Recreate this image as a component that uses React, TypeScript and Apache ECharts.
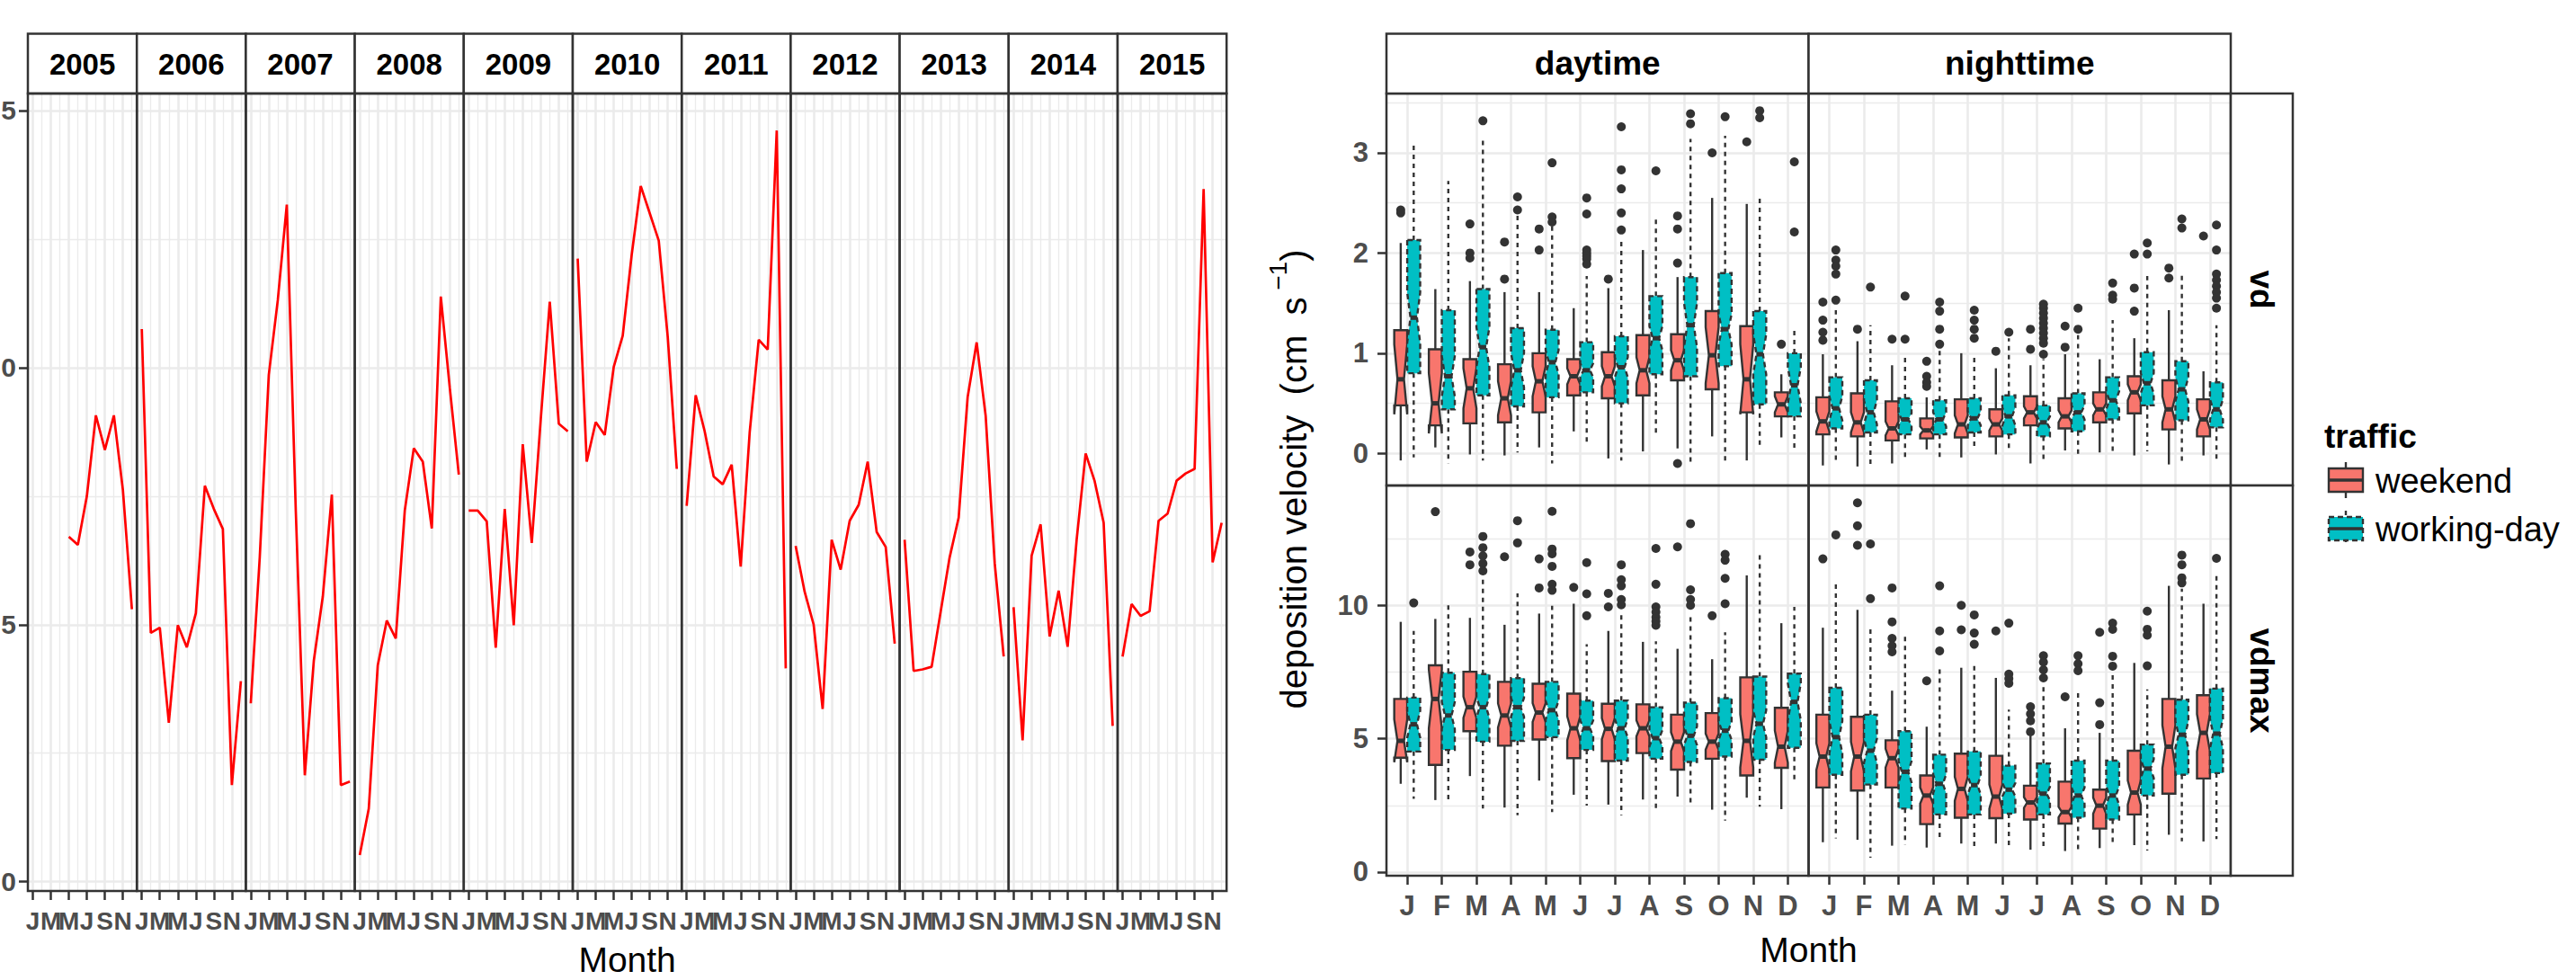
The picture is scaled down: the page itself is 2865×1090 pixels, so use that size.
import React, { useEffect, useRef } from 'react';
import * as echarts from 'echarts';

// ---------------- DATA ----------------
const years = ['2005', '2006', '2007', '2008', '2009', '2010', '2011', '2012', '2013', '2014', '2015'];
const monthLetters = ['J', 'F', 'M', 'A', 'M', 'J', 'J', 'A', 'S', 'O', 'N', 'D'];

// monthly values Jan..Dec (null = no value)
const y2005 = [null, null, null, null, 0.671, 0.655, 0.75, 0.907, 0.84, 0.907, 0.762, 0.53];
const y2006 = [1.075, 0.484, 0.494, 0.309, 0.499, 0.456, 0.522, 0.77, 0.725, 0.686, 0.188, 0.39];
const y2007 = [0.347, 0.632, 0.986, 1.131, 1.317, 0.72, 0.207, 0.43, 0.555, 0.753, 0.188, 0.195];
const y2008 = [0.052, 0.142, 0.421, 0.508, 0.473, 0.722, 0.843, 0.817, 0.687, 1.138, 0.96, 0.792];
const y2009 = [0.722, 0.722, 0.701, 0.455, 0.725, 0.499, 0.851, 0.659, 0.9, 1.128, 0.891, 0.876];
const y2010 = [1.212, 0.817, 0.894, 0.869, 1.001, 1.062, 1.22, 1.353, 1.3, 1.247, 1.059, 0.803];
const y2011 = [0.731, 0.946, 0.876, 0.788, 0.773, 0.811, 0.613, 0.875, 1.054, 1.035, 1.461, 0.415];
const y2012 = [0.653, 0.564, 0.5, 0.336, 0.665, 0.607, 0.702, 0.733, 0.817, 0.68, 0.651, 0.463];
const y2013 = [0.665, 0.41, 0.413, 0.418, 0.525, 0.631, 0.708, 0.943, 1.049, 0.906, 0.62, 0.438];
const y2014 = [0.534, 0.275, 0.634, 0.695, 0.477, 0.566, 0.457, 0.665, 0.833, 0.779, 0.698, 0.303];
const y2015 = [0.438, 0.54, 0.517, 0.526, 0.702, 0.716, 0.78, 0.794, 0.803, 1.347, 0.621, 0.698];
const yearValues = [y2005, y2006, y2007, y2008, y2009, y2010, y2011, y2012, y2013, y2014, y2015];

const leftXTicks = [1, 3, 5, 7, 9, 11];
const leftXMinor = [2, 4, 6, 8, 10, 12];
const leftYTicks = [0, 0.5, 1, 1.5];
const leftYMinor = [0.25, 0.75, 1.25];

const facetCols = ['daytime', 'nighttime'];
const facetRows = ['vd', 'vdmax'];
const trafficLevels = ['weekend', 'working-day'];
const monthIdx = [0, 1, 2, 3, 4, 5, 6, 7, 8, 9, 10, 11];
const vdTicks = [0, 1, 2, 3];
const vdMinor = [0.5, 1.5, 2.5, 3.5];
const vdmaxTicks = [0, 5, 10];
const vdmaxMinor = [2.5, 7.5, 12.5];

// box stats per month: [lower whisker, Q1, median, Q3, upper whisker]
const vdDayWeekend = [
  [-0.07, 0.48, 0.74, 1.23, 2.1], [0.06, 0.28, 0.5, 1.04, 1.64], [-0.01, 0.3, 0.65, 0.94, 1.72],
  [-0.02, 0.31, 0.55, 0.89, 1.61], [0.06, 0.41, 0.72, 1.0, 1.61], [0.22, 0.58, 0.77, 0.94, 1.45],
  [-0.05, 0.55, 0.77, 1.01, 1.65], [0.02, 0.58, 0.83, 1.18, 2.03], [0.05, 0.73, 0.93, 1.19, 1.76],
  [0.17, 0.64, 0.98, 1.42, 2.55], [-0.07, 0.41, 0.74, 1.27, 2.49], [0.16, 0.37, 0.49, 0.61, 0.79],
];
const vdDayWeekendNotch = [0.35, 0.3, 0.2, 0.17, 0.15, 0.08, 0.1, 0.13, 0.1, 0.28, 0.35, 0.08];
const vdDayWeekendOut = [[2.43, 2.4], [], [2.29, 2.0, 1.95], [2.11, 1.74], [2.24, 2.03], [], [1.74], [], [2.37, 2.24, 1.9, -0.1], [3.0], [3.11], [1.09]];

const vdDayWork = [
  [-0.04, 0.8, 1.355, 2.13, 3.11], [-0.1, 0.44, 0.77, 1.43, 2.72], [-0.07, 0.58, 1.06, 1.64, 3.12],
  [0.01, 0.47, 0.83, 1.25, 2.4], [-0.1, 0.56, 0.91, 1.235, 2.28], [0.08, 0.61, 0.83, 1.11, 1.77],
  [-0.07, 0.5, 0.86, 1.17, 2.15], [0.17, 0.79, 1.15, 1.57, 2.34], [-0.09, 0.77, 1.28, 1.76, 3.14],
  [-0.09, 0.87, 1.24, 1.8, 3.17], [0.06, 0.49, 0.99, 1.42, 2.58], [0.02, 0.37, 0.68, 1.0, 1.23],
];
const vdDayWorkNotch = [0.25, 0.2, 0.2, 0.17, 0.12, 0.07, 0.1, 0.12, 0.22, 0.15, 0.2, 0.18];
const vdDayWorkOut = [[], [], [3.32], [2.56, 2.43], [2.9, 2.36, 2.31], [2.55, 2.39, 2.03, 2.0, 1.97, 1.94, 1.89], [3.26, 2.83, 2.64, 2.4, 2.23], [2.82], [3.39, 3.29], [3.36], [3.42, 3.35], [2.91, 2.21]];

const vdNightWeekend = [
  [-0.12, 0.19, 0.32, 0.56, 0.99], [-0.13, 0.17, 0.31, 0.6, 1.12], [-0.1, 0.13, 0.25, 0.52, 0.88],
  [0.04, 0.15, 0.23, 0.35, 0.56], [-0.04, 0.16, 0.29, 0.54, 1.0], [-0.01, 0.17, 0.29, 0.44, 0.85],
  [-0.1, 0.28, 0.41, 0.57, 0.88], [0.03, 0.25, 0.37, 0.55, 0.99], [0.01, 0.31, 0.44, 0.61, 0.94],
  [-0.02, 0.4, 0.61, 0.77, 1.15], [-0.11, 0.24, 0.44, 0.73, 1.43], [-0.02, 0.17, 0.34, 0.54, 0.82],
];
const vdNightWeekendNotch = [0.1, 0.1, 0.07, 0.04, 0.09, 0.06, 0.06, 0.06, 0.06, 0.08, 0.13, 0.1];
const vdNightWeekendOut = [[1.51, 1.33, 1.21, 1.13], [1.24], [1.14], [0.92, 0.77, 0.71, 0.67], [], [1.02], [1.24, 1.04], [1.27, 1.06], [], [1.99, 1.65, 1.42], [1.85, 1.75], [2.17]];

const vdNightWork = [
  [-0.08, 0.25, 0.45, 0.76, 1.43], [-0.11, 0.21, 0.41, 0.73, 1.28], [-0.06, 0.19, 0.34, 0.55, 0.97],
  [-0.06, 0.19, 0.34, 0.53, 1.04], [0.05, 0.21, 0.35, 0.55, 0.97], [0.03, 0.19, 0.37, 0.58, 1.15],
  [-0.08, 0.17, 0.31, 0.48, 0.94], [-0.01, 0.22, 0.41, 0.6, 1.18], [-0.02, 0.34, 0.53, 0.76, 1.33],
  [0.02, 0.48, 0.7, 1.01, 1.77], [-0.09, 0.33, 0.64, 0.92, 1.79], [-0.09, 0.26, 0.44, 0.71, 1.28],
];
const vdNightWorkNotch = [0.12, 0.12, 0.06, 0.07, 0.07, 0.09, 0.06, 0.07, 0.09, 0.1, 0.12, 0.1];
const vdNightWorkOut = [[2.03, 1.93, 1.87, 1.79, 1.53], [1.66], [1.57, 1.14], [1.51, 1.42, 1.24, 1.09], [1.43, 1.33, 1.24, 1.15], [1.21], [1.49, 1.45, 1.4, 1.35, 1.3, 1.25, 1.2, 1.15, 1.1, 0.99], [1.45, 1.24], [1.7, 1.58, 1.54], [2.1, 1.99], [2.34, 2.25], [2.28, 2.03, 1.79, 1.73, 1.67, 1.61, 1.55, 1.45]];

const vdmaxDayWeekend = [
  [3.31, 4.29, 4.92, 6.49, 9.38], [2.7, 4.02, 6.49, 7.75, 9.49], [3.6, 5.28, 6.18, 7.51, 9.53],
  [2.42, 4.74, 5.87, 7.13, 9.27], [3.43, 4.97, 5.98, 7.06, 9.69], [2.9, 4.27, 5.39, 6.69, 10.06],
  [2.53, 4.16, 5.37, 6.31, 9.04], [2.72, 4.46, 5.39, 6.29, 8.63], [2.83, 3.84, 4.89, 5.9, 8.37],
  [2.34, 4.25, 4.89, 5.96, 7.98], [2.79, 3.62, 4.92, 7.3, 11.12], [2.36, 3.91, 4.7, 6.16, 9.33],
];
const vdmaxDayWeekendNotch = [0.8, 1.1, 0.4, 0.45, 0.35, 0.45, 0.4, 0.3, 0.35, 0.3, 1.0, 0.6];
const vdmaxDayWeekendOut = [[], [13.51], [12.0, 11.52], [11.82], [11.74, 10.65], [10.67], [10.45, 9.94], [], [12.19], [9.61], [], []];

const vdmaxDayWork = [
  [2.75, 4.52, 5.54, 6.54, 9.04], [2.56, 4.58, 5.87, 7.47, 10.0], [2.38, 4.89, 6.18, 7.42, 11.01],
  [2.13, 4.92, 6.18, 7.27, 10.45], [2.25, 5.06, 6.07, 7.13, 9.98], [2.49, 4.58, 5.39, 6.43, 8.54],
  [2.13, 4.18, 5.39, 6.43, 9.8], [2.27, 4.25, 5.02, 6.18, 8.65], [2.45, 4.13, 5.11, 6.35, 9.66],
  [1.93, 4.33, 5.3, 6.52, 8.99], [2.45, 4.21, 5.56, 7.33, 12.02], [3.39, 4.66, 6.38, 7.44, 9.94],
];
const vdmaxDayWorkNotch = [0.5, 0.5, 0.4, 0.35, 0.35, 0.3, 0.35, 0.3, 0.35, 0.35, 0.5, 0.7];
const vdmaxDayWorkOut = [[10.09], [], [12.58, 12.16, 11.85, 11.57, 11.29], [13.17, 12.34], [13.52, 12.11, 11.93, 11.46, 10.79, 10.56], [11.6, 10.43, 9.61], [11.52, 10.96, 10.73, 10.22, 10.02], [12.13, 10.79, 9.94, 9.75, 9.55, 9.4, 9.25], [13.06, 10.58, 10.22, 10.0], [11.91, 11.69, 11.01, 10.06], [], []];

const vdmaxNightWeekend = [
  [1.12, 3.17, 4.33, 5.9, 9.16], [1.21, 3.06, 4.33, 5.82, 9.83], [0.99, 3.17, 4.27, 4.94, 6.8],
  [0.92, 1.8, 2.87, 3.62, 5.45], [1.07, 2.04, 3.12, 4.44, 7.66], [1.07, 2.02, 2.83, 4.36, 7.28],
  [0.84, 1.97, 2.61, 3.24, 5.11], [0.79, 1.82, 2.25, 3.39, 5.39], [0.9, 1.63, 2.49, 3.09, 5.22],
  [1.01, 2.16, 2.98, 4.55, 7.84], [1.4, 2.94, 4.7, 6.49, 10.73], [1.15, 3.51, 5.22, 6.63, 10.06],
];
const vdmaxNightWeekendNotch = [0.5, 0.55, 0.35, 0.3, 0.45, 0.45, 0.2, 0.2, 0.3, 0.45, 0.8, 0.7];
const vdmaxNightWeekendOut = [[11.74], [13.84, 12.98, 12.25], [10.65, 9.38, 8.76, 8.48, 8.26], [7.17], [10.0, 9.08], [9.04], [6.2, 5.93, 5.67, 5.26], [6.57], [8.99, 6.35, 5.53], [], [], []];

const vdmaxNightWork = [
  [1.26, 3.65, 5.06, 6.91, 10.92], [0.54, 3.28, 4.55, 5.9, 9.16], [1.03, 2.38, 3.76, 5.28, 8.88],
  [1.21, 2.16, 3.31, 4.4, 7.7], [0.84, 2.16, 3.26, 4.52, 7.78], [0.84, 2.19, 3.09, 3.99, 6.09],
  [0.88, 2.16, 2.94, 4.07, 6.97], [0.7, 2.04, 2.87, 4.18, 6.72], [0.99, 1.97, 2.87, 4.18, 7.47],
  [0.81, 2.87, 3.88, 4.78, 6.85], [1.15, 3.65, 5.15, 6.46, 10.62], [1.24, 3.71, 5.19, 6.88, 11.18],
];
const vdmaxNightWorkNotch = [0.6, 0.45, 0.4, 0.35, 0.35, 0.25, 0.25, 0.3, 0.35, 0.35, 0.5, 0.55];
const vdmaxNightWorkOut = [[12.64], [12.3, 10.25], [], [10.73, 9.04, 8.29], [9.64, 8.96, 8.54], [9.33, 7.42, 7.25, 7.08], [8.11, 7.87, 7.58, 7.28], [8.11, 7.81, 7.55], [9.33, 9.1, 8.09, 7.72], [9.78, 9.1, 8.88, 7.73], [11.88, 11.52, 11.03, 10.84], [11.76]];

// ---------------- STYLE / LAYOUT ----------------
const FONT = '"Liberation Sans", Arial, Helvetica, sans-serif';
const DARK = '#333333';
const GRID_C = '#EBEBEB';
const TICK_TXT = '#4D4D4D';
const LINE_C = '#FF0000';
const FILLS = ['#F8766D', '#00BFC4'];

const STRIP_TOP = 37.5;
const PANEL_TOP = 104;
const L_X0 = 31;
const L_PW = 121.2;
const L_BOT = 991;
const L_XRANGE = [0.45, 12.55];
const L_YRANGE = [-0.018, 1.533];

const R_X0 = 1542;
const R_PW = 469.5;
const R_ROWS = [[104, 540], [540, 974]];
const R_XRANGE = [-0.6, 11.6];
const R_YRANGES = [[-0.32, 3.592], [-0.135, 14.49]];
const R_STRIP_W = 69;
const DODGE = 0.1875;

function valueAxis(gridIndex: number, position: string, range: number[], ticks: number[], o: any) {
  return {
    type: 'value', gridIndex, position, min: range[0], max: range[1],
    axisLine: { show: false, onZero: false },
    axisTick: { show: !!o.ticks, customValues: ticks, length: 10, lineStyle: { color: DARK, width: 2.5 } },
    axisLabel: {
      show: !!o.labels, customValues: ticks, formatter: o.fmt, color: TICK_TXT, fontWeight: 'bold',
      fontSize: o.fontSize || 30, fontFamily: FONT, margin: o.margin || 18,
      showMinLabel: true, showMaxLabel: true, hideOverlap: false,
    },
    splitLine: { show: true, lineStyle: { color: GRID_C, width: o.gw } },
    minorTick: { show: false }, minorSplitLine: { show: false },
  };
}

function buildOption() {
  const grid: any[] = [];
  const xAxis: any[] = [];
  const yAxis: any[] = [];
  const series: any[] = [];
  const graphic: any[] = [];

  const addPanel = (x: number, y: number, w: number, h: number, xr: number[], yr: number[],
    xMajor: number[], xMinor: number[] | null, yMajor: number[], yMinor: number[] | null,
    xo: any, yo: any) => {
    const gi = grid.length;
    grid.push({ left: x, top: y, width: w, height: h, containLabel: false, outerBoundsMode: 'none', show: false });
    const xi = xAxis.length;
    xAxis.push(valueAxis(gi, 'bottom', xr, xMajor, { ...xo, gw: 2.6 }));
    if (xMinor) xAxis.push(valueAxis(gi, 'bottom', xr, xMinor, { gw: 1.3 }));
    const yi = yAxis.length;
    yAxis.push(valueAxis(gi, 'left', yr, yMajor, { ...yo, gw: 2.6 }));
    if (yMinor) yAxis.push(valueAxis(gi, 'left', yr, yMinor, { gw: 1.3 }));
    return { xi, yi };
  };

  // ---------- left: yearly facets ----------
  years.forEach((yr, i) => {
    const x = L_X0 + i * L_PW;
    const { xi, yi } = addPanel(x, PANEL_TOP, L_PW, L_BOT - PANEL_TOP, L_XRANGE, L_YRANGE,
      leftXTicks, leftXMinor, leftYTicks, leftYMinor,
      { ticks: true, labels: true, fmt: (v: number) => monthLetters[Math.round(v) - 1], fontSize: 28, margin: 19 },
      // only the last character of each label is visible at the picture's left edge
      { ticks: i === 0, labels: i === 0, fmt: (v: number) => v.toFixed(1).slice(-1), fontSize: 30, margin: 13 });
    const pts: number[][] = [];
    yearValues[i].forEach((v, m) => { if (v !== null) pts.push([m + 1, v as number]); });
    series.push({
      type: 'line', xAxisIndex: xi, yAxisIndex: yi, data: pts, symbol: 'none', silent: true, z: 3,
      lineStyle: { color: LINE_C, width: 2.7 },
    });
    graphic.push({ type: 'rect', z: 20, shape: { x, y: STRIP_TOP, width: L_PW, height: PANEL_TOP - STRIP_TOP }, style: { fill: '#FFFFFF', stroke: DARK, lineWidth: 2.5 } });
    graphic.push({ type: 'text', z: 21, x: x + L_PW / 2, y: (STRIP_TOP + PANEL_TOP) / 2 + 1, style: { text: yr, fontSize: 33, fontWeight: 'bold', fontFamily: FONT, fill: '#000000', align: 'center', verticalAlign: 'middle' } });
    graphic.push({ type: 'rect', z: 20, shape: { x, y: PANEL_TOP, width: L_PW, height: L_BOT - PANEL_TOP }, style: { fill: 'none', stroke: DARK, lineWidth: 2.5 } });
  });
  graphic.push({ type: 'text', z: 21, x: L_X0 + (L_PW * 11) / 2, y: 1067, style: { text: 'Month', fontSize: 39, fontFamily: FONT, fill: '#000000', align: 'center', verticalAlign: 'middle' } });

  // ---------- right: boxplot facets ----------
  const boxes = [
    [[vdDayWeekend, vdDayWeekendNotch, vdDayWeekendOut], [vdDayWork, vdDayWorkNotch, vdDayWorkOut]],
    [[vdNightWeekend, vdNightWeekendNotch, vdNightWeekendOut], [vdNightWork, vdNightWorkNotch, vdNightWorkOut]],
    [[vdmaxDayWeekend, vdmaxDayWeekendNotch, vdmaxDayWeekendOut], [vdmaxDayWork, vdmaxDayWorkNotch, vdmaxDayWorkOut]],
    [[vdmaxNightWeekend, vdmaxNightWeekendNotch, vdmaxNightWeekendOut], [vdmaxNightWork, vdmaxNightWorkNotch, vdmaxNightWorkOut]],
  ];

  facetRows.forEach((rowName, r) => {
    facetCols.forEach((colName, c) => {
      const x = R_X0 + c * R_PW;
      const [top, bot] = R_ROWS[r];
      const { xi, yi } = addPanel(x, top, R_PW, bot - top, R_XRANGE, R_YRANGES[r],
        monthIdx, null, r === 0 ? vdTicks : vdmaxTicks, r === 0 ? vdMinor : vdmaxMinor,
        { ticks: r === 1, labels: r === 1, fmt: (v: number) => monthLetters[Math.round(v)], fontSize: 31, margin: 18 },
        { ticks: c === 0, labels: c === 0, fmt: (v: number) => String(v), fontSize: 31, margin: 20 });
      const set = boxes[r * 2 + c];
      set.forEach(([stats, notch, outs]: any, t: number) => {
        const side = t === 0 ? -1 : 1;
        const dashed = t === 1;
        series.push({
          type: 'custom', xAxisIndex: xi, yAxisIndex: yi, silent: true, z: 2, clip: false,
          data: (stats as number[][]).map((s, m) => [m, s[0], s[1], s[2], s[3], s[4], (notch as number[])[m]]),
          encode: { x: 0, y: [1, 2, 3, 4, 5] },
          renderItem: (params: any, api: any) => {
            const m = api.value(0);
            const xc = m + side * DODGE;
            const lo = api.value(1), q1 = api.value(2), med = api.value(3), q3 = api.value(4), hi = api.value(5), nh = api.value(6);
            const xL = api.coord([xc - DODGE, med])[0];
            const xR = api.coord([xc + DODGE, med])[0];
            const yv = (v: number) => api.coord([xc, v])[1];
            const xm = (xL + xR) / 2;
            const ins = (xR - xL) * 0.25;
            const ylo = yv(lo), yq1 = yv(q1), ymed = yv(med), yq3 = yv(q3), yhi = yv(hi);
            const ynl = yv(med - nh), ynu = yv(med + nh);
            const wStyle: any = { stroke: DARK, lineWidth: 2.4 };
            const bStyle: any = { fill: FILLS[t], stroke: DARK, lineWidth: 2.4 };
            if (dashed) { wStyle.lineDash = [5, 5]; bStyle.lineDash = [6, 4]; }
            return {
              type: 'group',
              children: [
                { type: 'line', shape: { x1: xm, y1: yq3, x2: xm, y2: yhi }, style: wStyle },
                { type: 'line', shape: { x1: xm, y1: yq1, x2: xm, y2: ylo }, style: wStyle },
                {
                  type: 'polygon',
                  shape: { points: [[xL, yq3], [xL, ynu], [xL + ins, ymed], [xL, ynl], [xL, yq1], [xR, yq1], [xR, ynl], [xR - ins, ymed], [xR, ynu], [xR, yq3]] },
                  style: bStyle,
                },
                { type: 'line', shape: { x1: xL + ins, y1: ymed, x2: xR - ins, y2: ymed }, style: { stroke: DARK, lineWidth: 5 } },
              ],
            };
          },
        });
        const outPts: number[][] = [];
        (outs as number[][]).forEach((arr, m) => arr.forEach((v) => outPts.push([m + side * DODGE, v])));
        series.push({
          type: 'scatter', xAxisIndex: xi, yAxisIndex: yi, silent: true, z: 3,
          data: outPts, symbol: 'circle', symbolSize: 10, itemStyle: { color: DARK, opacity: 1 },
        });
      });
      graphic.push({ type: 'rect', z: 20, shape: { x, y: top, width: R_PW, height: bot - top }, style: { fill: 'none', stroke: DARK, lineWidth: 2.5 } });
      if (r === 0) {
        graphic.push({ type: 'rect', z: 20, shape: { x, y: STRIP_TOP, width: R_PW, height: PANEL_TOP - STRIP_TOP }, style: { fill: '#FFFFFF', stroke: DARK, lineWidth: 2.5 } });
        graphic.push({ type: 'text', z: 21, x: x + R_PW / 2, y: (STRIP_TOP + PANEL_TOP) / 2, style: { text: colName, fontSize: 37, fontWeight: 'bold', fontFamily: FONT, fill: '#000000', align: 'center', verticalAlign: 'middle' } });
      }
      if (c === 1) {
        const sx = x + R_PW;
        graphic.push({ type: 'rect', z: 20, shape: { x: sx, y: top, width: R_STRIP_W, height: bot - top }, style: { fill: '#FFFFFF', stroke: DARK, lineWidth: 2.5 } });
        graphic.push({ type: 'text', z: 21, x: sx + R_STRIP_W / 2, y: (top + bot) / 2, rotation: -Math.PI / 2, style: { text: rowName, fontSize: 37, fontWeight: 'bold', fontFamily: FONT, fill: '#000000', align: 'center', verticalAlign: 'middle' } });
      }
    });
  });

  // axis titles
  graphic.push({ type: 'text', z: 21, x: R_X0 + R_PW, y: 1056, style: { text: 'Month', fontSize: 39, fontFamily: FONT, fill: '#000000', align: 'center', verticalAlign: 'middle' } });
  graphic.push({
    type: 'text', z: 21, x: 1433, y: 533, rotation: Math.PI / 2,
    style: {
      text: '{a|deposition velocity  (cm  s}{b| −1}{a|)}',
      align: 'center', verticalAlign: 'middle',
      rich: {
        a: { fontSize: 40, fontFamily: FONT, fill: '#000000', lineHeight: 52, verticalAlign: 'bottom' },
        b: { fontSize: 28, fontFamily: FONT, fill: '#000000', lineHeight: 29, verticalAlign: 'top' },
      },
    },
  });

  // legend
  const LX = 2590, KW = 38;
  graphic.push({ type: 'text', z: 21, x: 2585, y: 485, style: { text: 'traffic', fontSize: 37, fontWeight: 'bold', fontFamily: FONT, fill: '#000000', align: 'left', verticalAlign: 'middle' } });
  trafficLevels.forEach((name, t) => {
    const cy = 534 + t * 54;
    const dash = t === 1 ? [5, 5] : null;
    const bdash = t === 1 ? [6, 4] : null;
    graphic.push({ type: 'line', z: 21, shape: { x1: LX + KW / 2, y1: cy - 20, x2: LX + KW / 2, y2: cy + 20 }, style: { stroke: DARK, lineWidth: 2.4, lineDash: dash } });
    graphic.push({ type: 'rect', z: 22, shape: { x: LX, y: cy - 13, width: KW, height: 26 }, style: { fill: FILLS[t], stroke: DARK, lineWidth: 2.4, lineDash: bdash } });
    graphic.push({ type: 'line', z: 23, shape: { x1: LX, y1: cy, x2: LX + KW, y2: cy }, style: { stroke: DARK, lineWidth: 3.5 } });
    graphic.push({ type: 'text', z: 21, x: 2642, y: cy + 1, style: { text: name, fontSize: 38, fontFamily: FONT, fill: '#000000', align: 'left', verticalAlign: 'middle' } });
  });

  return { animation: false, backgroundColor: '#FFFFFF', grid, xAxis, yAxis, series, graphic };
}

export default function App() {
  const ref = useRef<HTMLDivElement>(null);
  useEffect(() => {
    const el = ref.current;
    if (!el) return;
    const chart = echarts.init(el, undefined, { renderer: 'svg', width: 2865, height: 1090 });
    chart.setOption(buildOption() as any);
    return () => chart.dispose();
  }, []);
  return (
    <div
      ref={ref}
      style={{ position: 'absolute', left: 0, top: 0, width: 2865, height: 1090, background: '#FFFFFF' }}
    />
  );
}
